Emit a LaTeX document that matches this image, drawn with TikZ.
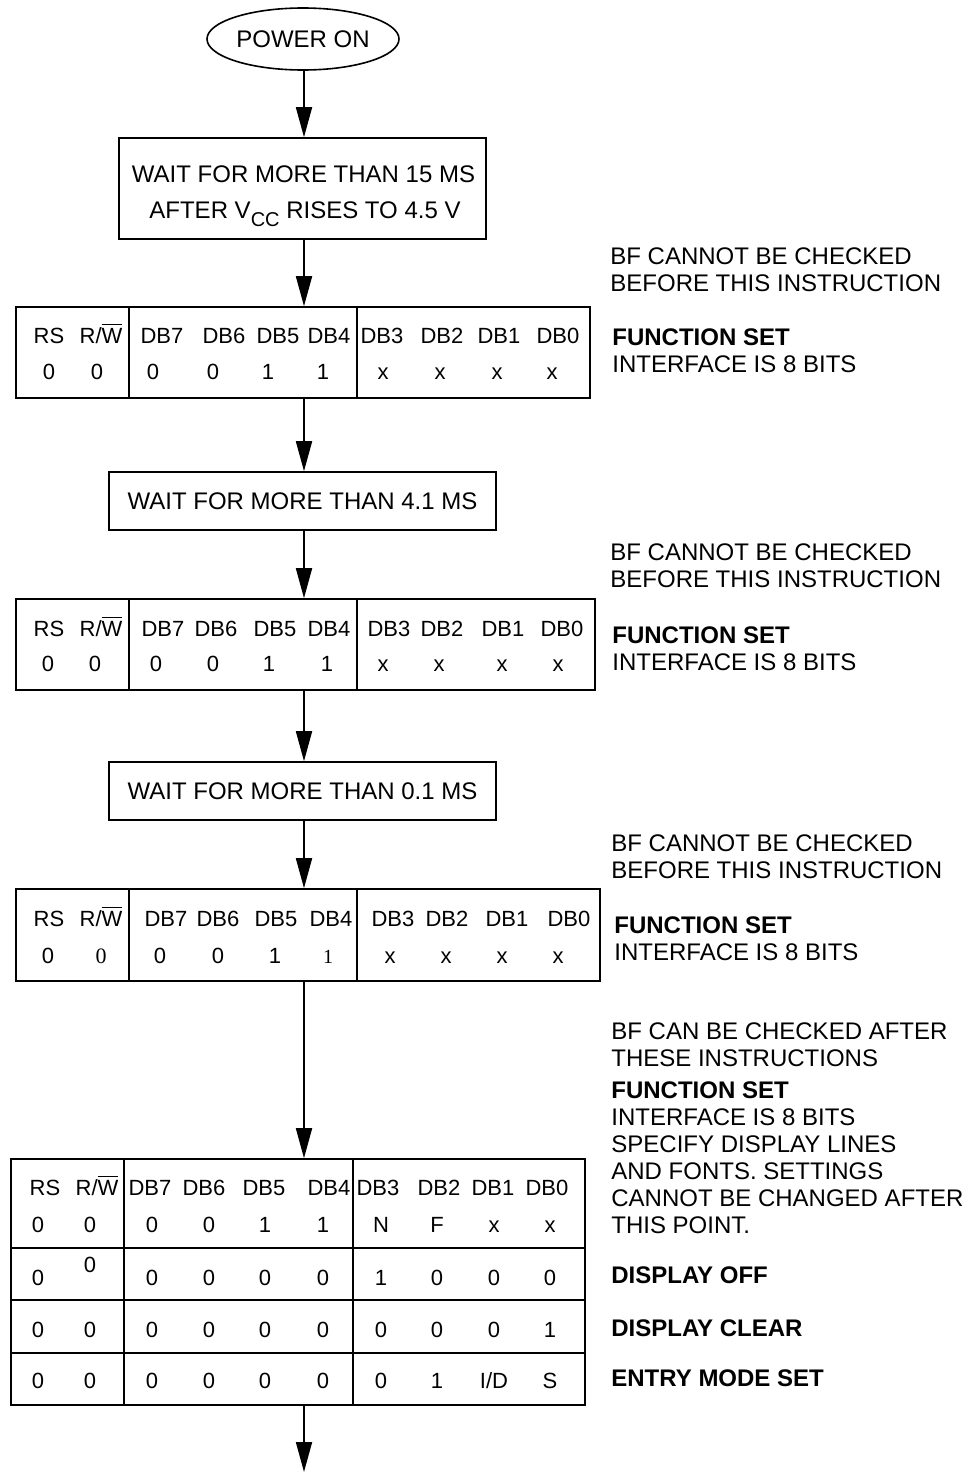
\documentclass[tikz,border=0pt]{standalone}
\usepackage{fontspec}
\setmainfont{Liberation Sans}
\newfontfamily\serifdigit{Liberation Serif}
\usetikzlibrary{arrows.meta,shapes.geometric,fit}

% R/W with a bar over the W
\newcommand\barW{\leavevmode\vbox{\hrule height 0.6pt\kern1.2pt\hbox{W}}}
\newcommand\rwbar{R/\barW}

\tikzset{
  ln/.style={line width=0.8pt},
  arr/.style={line width=0.9pt,-{Triangle[width=8pt,length=15pt]}},
  box/.style={draw,line width=0.8pt,inner sep=0pt},
  big/.style={font=\fontsize{12}{14}\selectfont},
  tt/.style={font=\fontsize{11}{13}\selectfont,anchor=base,inner sep=0pt},
  note/.style={font=\fontsize{12}{14}\selectfont,anchor=base west,inner sep=0pt},
  bnote/.style={font=\fontsize{12}{14}\selectfont\bfseries,anchor=base west,inner sep=0pt},
}

\begin{document}
\begin{tikzpicture}[x=0.5pt,y=-0.5pt]
\useasboundingbox (0,0) rectangle (977,1472);
\coordinate (ax) at (304,0);

% ---------- start ----------
\node[draw,ellipse,line width=0.8pt,minimum width=96pt,minimum height=31pt,inner sep=0pt,big] (pwr) at (303,39) {POWER ON};

% ---------- first wait ----------
\node[box,fit={(119,138)(486,239)}] (b1) {};
\node[big,anchor=base,inner sep=0pt] (b1a) at (303.5,182) {WAIT FOR MORE THAN 15 MS};
\node[big,anchor=base,inner sep=0pt] (b1b) at (305,218) {AFTER V\raisebox{-4pt}{\fontsize{10}{10}\selectfont CC} RISES TO 4.5 V};

% ---------- function set #1 ----------
\node[box,fit={(16,307)(590,398)}] (t1) {};
\draw[ln] (129,307) -- (129,398) (357,307) -- (357,398);
\foreach \x/\s [count=\i] in {49/RS,101/\rwbar,162/DB7,224/DB6,278/DB5,329/DB4,382/DB3,442/DB2,499/DB1,558/DB0}
  \node[tt] (t1h\i) at (\x,343) {\s};
\foreach \x/\s [count=\i] in {49/0,97/0,153/0,213/0,268/1,323/1,383/x,440/x,497/x,552/x}
  \node[tt] (t1v\i) at (\x,379) {\s};
\node[note] (n1a) at (610,264) {BF CANNOT BE CHECKED};
\node[note] (n1b) at (610,291) {BEFORE THIS INSTRUCTION};
\node[bnote] (n1c) at (612,345) {FUNCTION SET};
\node[note] (n1d) at (612,372) {INTERFACE IS 8 BITS};

% ---------- second wait ----------
\node[box,big,minimum width=193.5pt,minimum height=29pt] (b2) at (302.5,501) {WAIT FOR MORE THAN 4.1 MS};

% ---------- function set #2 ----------
\node[box,fit={(16,599)(595,690)}] (t2) {};
\draw[ln] (129,599) -- (129,690) (357,599) -- (357,690);
\foreach \x/\s [count=\i] in {49/RS,101/\rwbar,163/DB7,216/DB6,275/DB5,329/DB4,389/DB3,442/DB2,503/DB1,562/DB0}
  \node[tt] (t2h\i) at (\x,636) {\s};
\foreach \x/\s [count=\i] in {48/0,95/0,156/0,213/0,269/1,327/1,383/x,439/x,502/x,558/x}
  \node[tt] (t2v\i) at (\x,671) {\s};
\node[note] (n2a) at (610,560) {BF CANNOT BE CHECKED};
\node[note] (n2b) at (610,587) {BEFORE THIS INSTRUCTION};
\node[bnote] (n2c) at (612,643) {FUNCTION SET};
\node[note] (n2d) at (612,670) {INTERFACE IS 8 BITS};

% ---------- third wait ----------
\node[box,big,minimum width=193.5pt,minimum height=29pt] (b3) at (302.5,791) {WAIT FOR MORE THAN 0.1 MS};

% ---------- function set #3 ----------
\node[box,fit={(16,889)(600,981)}] (t3) {};
\draw[ln] (129,889) -- (129,981) (357,889) -- (357,981);
\foreach \x/\s [count=\i] in {49/RS,101/\rwbar,166/DB7,218/DB6,276/DB5,331/DB4,393/DB3,447/DB2,507/DB1,569/DB0}
  \node[tt] (t3h\i) at (\x,926) {\s};
\foreach \x/\s [count=\i] in {48/0,101/{\serifdigit 0},160/0,218/0,275/1,328/{\serifdigit\fontsize{10}{12}\selectfont 1},390/x,446/x,502/x,558/x}
  \node[tt] (t3v\i) at (\x,963) {\s};
\node[note] (n3a) at (611,851) {BF CANNOT BE CHECKED};
\node[note] (n3b) at (611,878) {BEFORE THIS INSTRUCTION};
\node[bnote] (n3c) at (614,933) {FUNCTION SET};
\node[note] (n3d) at (614,960) {INTERFACE IS 8 BITS};

% ---------- final instruction block ----------
\node[box,fit={(11,1159)(585,1405)}] (t4) {};
\draw[ln] (124,1159) -- (124,1405) (353,1159) -- (353,1405);
\draw[ln] (11,1248) -- (585,1248) (11,1300) -- (585,1300) (11,1353) -- (585,1353);
\foreach \x/\s [count=\i] in {45/RS,97/\rwbar,150/DB7,204/DB6,264/DB5,329/DB4,378/DB3,439/DB2,493/DB1,547/DB0}
  \node[tt] (t4h\i) at (\x,1195) {\s};
\foreach \x/\s [count=\i] in {38/0,90/0,152/0,209/0,265/1,323/1,381/N,437/F,494/x,550/x}
  \node[tt] (t4a\i) at (\x,1232) {\s};
\node[tt] (t4b1) at (38,1285) {0};
\node[tt] (t4b2) at (90,1272) {0};
\foreach \x/\s [count=\i from 3] in {152/0,209/0,265/0,323/0,381/1,437/0,494/0,550/0}
  \node[tt] (t4b\i) at (\x,1285) {\s};
\foreach \x/\s [count=\i] in {38/0,90/0,152/0,209/0,265/0,323/0,381/0,437/0,494/0,550/1}
  \node[tt] (t4c\i) at (\x,1337) {\s};
\foreach \x/\s [count=\i] in {38/0,90/0,152/0,209/0,265/0,323/0,381/0,437/1,494/{I/D},550/S}
  \node[tt] (t4d\i) at (\x,1388) {\s};
\node[note] (n4a) at (611,1039) {BF CAN BE CHECKED AFTER};
\node[note] (n4b) at (611,1066) {THESE INSTRUCTIONS};
\node[bnote] (n4c) at (611,1098) {FUNCTION SET};
\node[note] (n4d) at (611,1125) {INTERFACE IS 8 BITS};
\node[note] (n4e) at (611,1152) {SPECIFY DISPLAY LINES};
\node[note] (n4f) at (611,1179) {AND FONTS. SETTINGS};
\node[note] (n4g) at (611,1206) {CANNOT BE CHANGED AFTER};
\node[note] (n4h) at (611,1233) {THIS POINT.};
\node[bnote] (n4i) at (611,1283) {DISPLAY OFF};
\node[bnote] (n4j) at (611,1336) {DISPLAY CLEAR};
\node[bnote] (n4k) at (611,1386) {ENTRY MODE SET};

% ---------- flow ----------
\coordinate (fin) at (304,1472);
\draw[arr] (ax |- pwr.south) -- (ax |- b1.north);
\draw[arr] (ax |- b1.south) -- (ax |- t1.north);
\draw[arr] (ax |- t1.south) -- (ax |- b2.north);
\draw[arr] (ax |- b2.south) -- (ax |- t2.north);
\draw[arr] (ax |- t2.south) -- (ax |- b3.north);
\draw[arr] (ax |- b3.south) -- (ax |- t3.north);
\draw[arr] (ax |- t3.south) -- (ax |- t4.north);
\draw[arr] (ax |- t4.south) -- (fin);
\end{tikzpicture}
\end{document}
